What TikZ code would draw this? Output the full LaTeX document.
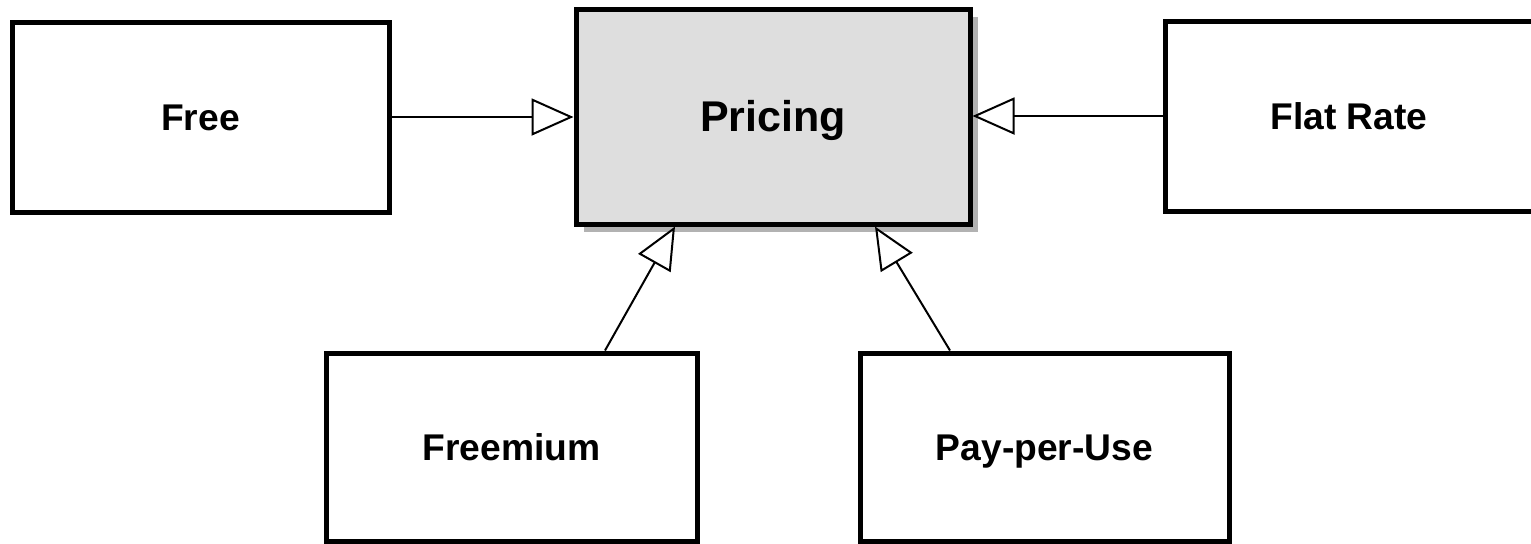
\documentclass[tikz,border=0pt]{standalone}
\usepackage{fontspec}
\setmainfont{Liberation Sans}
\usetikzlibrary{arrows.meta,shadows}
\begin{document}
\begin{tikzpicture}[x=0.5pt,y=-0.5pt,
  box/.style={draw=black, line width=2.5pt, fill=white, rectangle, inner sep=0pt,
    font=\fontsize{18.6}{22}\selectfont\bfseries, text height=13.3pt, text depth=0pt},
  mainbox/.style={box, fill=gray!26, font=\fontsize{21.5}{26}\selectfont\bfseries,
    text height=15.4pt, text depth=0pt,
    drop shadow={shadow xshift=4pt, shadow yshift=-4pt, fill=black!30, opacity=1}},
  arr/.style={draw=black, line width=1pt, -{Triangle[open, length=21pt, width=18.5pt, fill=white]}}]
\useasboundingbox (0,0) rectangle (1531,543);
\clip (0,0) rectangle (1531,543);
\fill[white] (0,0) rectangle (1531,543);
\node[mainbox, minimum width=197pt, minimum height=107.5pt] (pricing) at (773,116.5) {Pricing};
\node[box, minimum width=188.5pt, minimum height=95pt] (free) at (200.5,117) {Free};
\node[box, minimum width=184pt, minimum height=95pt] (flat) at (1349,116) {Flat Rate};
\node[box, minimum width=185.5pt, minimum height=94pt] (freemium) at (511.5,447) {Freemium};
\node[box, minimum width=184.5pt, minimum height=94pt] (payper) at (1044.5,447) {Pay-per-Use};
\draw[arr] (free.east) -- (free.east -| pricing.west);
\draw[arr] (flat.west) -- (flat.west -| pricing.east);
\draw[arr] ([xshift=46.75pt]freemium.north) -- ([xshift=-49pt]pricing.south);
\draw[arr] ([xshift=-47.25pt]payper.north) -- ([xshift=51pt]pricing.south);
\end{tikzpicture}
\end{document}
